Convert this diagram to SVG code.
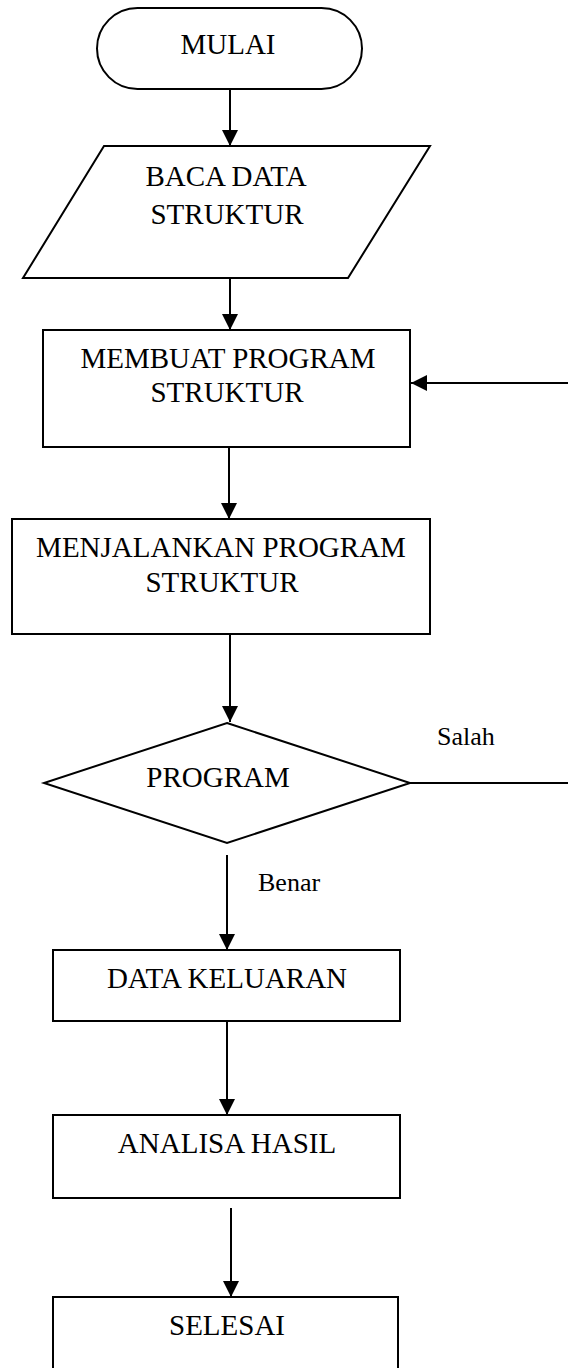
<svg xmlns="http://www.w3.org/2000/svg" width="568" height="1368" viewBox="0 0 568 1368">
<style>
.s{fill:#fff;stroke:#000;stroke-width:2}
.t{font-family:"Liberation Serif","Times New Roman",serif;font-size:29px;fill:#000;text-anchor:middle}
.l{font-family:"Liberation Serif","Times New Roman",serif;font-size:26px;fill:#000}
.c{fill:none;stroke:#000;stroke-width:2}
</style>
<defs>
<marker id="ah" markerWidth="16" markerHeight="16" viewBox="0 0 16 16" refX="16" refY="8" orient="auto" markerUnits="userSpaceOnUse">
<path d="M0,0 L16,8 L0,16 Z" fill="#000"/>
</marker>
</defs>
<rect width="568" height="1368" fill="#fff"/>
<g id="connectors">
<line class="c" x1="230" y1="89" x2="230" y2="146" marker-end="url(#ah)"/>
<line class="c" x1="230" y1="278" x2="230" y2="330" marker-end="url(#ah)"/>
<line class="c" x1="568" y1="383" x2="411" y2="383" marker-end="url(#ah)"/>
<line class="c" x1="229" y1="447" x2="229" y2="519" marker-end="url(#ah)"/>
<line class="c" x1="230" y1="634" x2="230" y2="722" marker-end="url(#ah)"/>
<line class="c" x1="410" y1="783" x2="568" y2="783"/>
<line class="c" x1="227" y1="855" x2="227" y2="950" marker-end="url(#ah)"/>
<line class="c" x1="227" y1="1021" x2="227" y2="1115" marker-end="url(#ah)"/>
<line class="c" x1="231" y1="1208" x2="231" y2="1297" marker-end="url(#ah)"/>
<text class="l" x="437" y="745">Salah</text>
<text class="l" x="258" y="891">Benar</text>
</g>
<g id="mulai">
<rect class="s" x="97" y="8" width="265" height="81" rx="40.5" ry="40.5"/>
<text class="t" x="228" y="54">MULAI</text>
</g>
<g id="baca">
<polygon class="s" points="104,146 430,146 348,278 23,278"/>
<text class="t" x="226" y="186">BACA DATA</text>
<text class="t" x="227" y="224">STRUKTUR</text>
</g>
<g id="membuat">
<rect class="s" x="43" y="330" width="367" height="117"/>
<text class="t" x="228" y="368">MEMBUAT PROGRAM</text>
<text class="t" x="227" y="402">STRUKTUR</text>
</g>
<g id="menjalankan">
<rect class="s" x="12" y="519" width="418" height="115"/>
<text class="t" x="221" y="557">MENJALANKAN PROGRAM</text>
<text class="t" x="222" y="592">STRUKTUR</text>
</g>
<g id="program">
<polygon class="s" points="227,723 410,783 227,843 44,783"/>
<text class="t" x="218" y="787">PROGRAM</text>
</g>
<g id="keluaran">
<rect class="s" x="53" y="950" width="347" height="71"/>
<text class="t" x="227" y="988">DATA KELUARAN</text>
</g>
<g id="analisa">
<rect class="s" x="53" y="1115" width="347" height="83"/>
<text class="t" x="227" y="1153">ANALISA HASIL</text>
</g>
<g id="selesai">
<rect class="s" x="53" y="1297" width="345" height="80"/>
<text class="t" x="227" y="1335">SELESAI</text>
</g>
</svg>
